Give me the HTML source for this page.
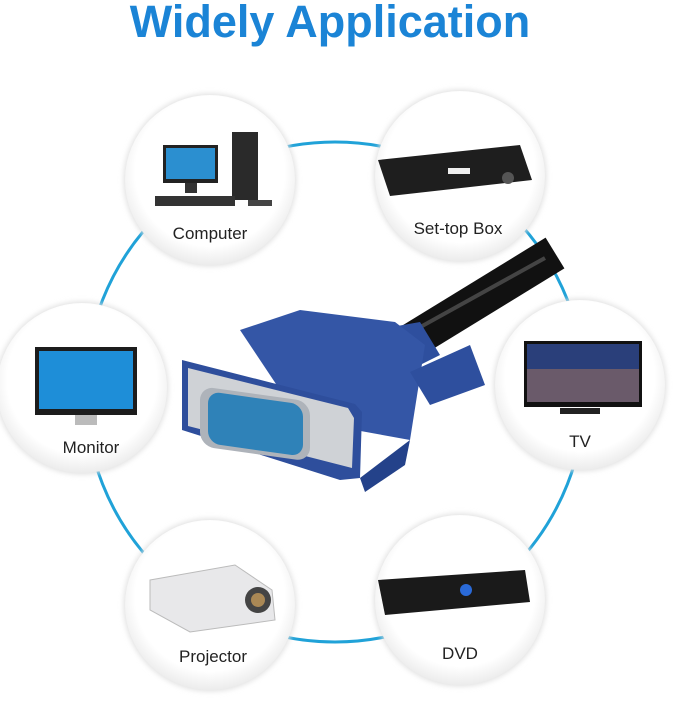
<!DOCTYPE html>
<html><head><style>
body{margin:0;width:679px;height:704px;background:#fff;overflow:hidden;font-family:"Liberation Sans",sans-serif}
</style></head><body>
<svg width="679" height="704" viewBox="0 0 679 704" xmlns="http://www.w3.org/2000/svg">
<defs>
<radialGradient id="cg" cx="50%" cy="45%" r="55%">
<stop offset="0.8" stop-color="#fff"/><stop offset="1" stop-color="#ececec"/>
</radialGradient>
<filter id="sh" x="-20%" y="-20%" width="140%" height="140%"><feGaussianBlur stdDeviation="3"/></filter>
</defs>
<text x="330" y="37" text-anchor="middle" font-family="Liberation Sans" font-weight="bold" font-size="45" fill="#1b84d6">Widely Application</text>
<circle cx="335" cy="392" r="250" fill="none" stroke="#20a2d8" stroke-width="3"/>
<g>
<circle cx="210" cy="180" r="86" fill="#ddd" filter="url(#sh)"/><circle cx="210" cy="180" r="85" fill="url(#cg)"/>
<circle cx="460" cy="176" r="86" fill="#ddd" filter="url(#sh)"/><circle cx="460" cy="176" r="85" fill="url(#cg)"/>
<circle cx="82" cy="388" r="86" fill="#ddd" filter="url(#sh)"/><circle cx="82" cy="388" r="85" fill="url(#cg)"/>
<circle cx="580" cy="385" r="86" fill="#ddd" filter="url(#sh)"/><circle cx="580" cy="385" r="85" fill="url(#cg)"/>
<circle cx="210" cy="605" r="86" fill="#ddd" filter="url(#sh)"/><circle cx="210" cy="605" r="85" fill="url(#cg)"/>
<circle cx="460" cy="600" r="86" fill="#ddd" filter="url(#sh)"/><circle cx="460" cy="600" r="85" fill="url(#cg)"/>
</g>
<!-- computer -->
<rect x="163" y="145" width="55" height="38" fill="#222"/><rect x="166" y="148" width="49" height="31" fill="#2b8fd0"/>
<rect x="185" y="183" width="12" height="10" fill="#333"/>
<rect x="232" y="132" width="26" height="68" fill="#2a2a2a"/>
<rect x="155" y="196" width="80" height="10" fill="#333"/><rect x="248" y="200" width="24" height="6" fill="#444"/>
<!-- set-top -->
<polygon points="378,160 520,145 532,180 390,196" fill="#1e1e1e"/>
<rect x="448" y="168" width="22" height="6" fill="#eee"/><circle cx="508" cy="178" r="6" fill="#555"/>
<!-- monitor -->
<rect x="35" y="347" width="102" height="68" fill="#1c1c1c"/><rect x="39" y="351" width="94" height="58" fill="#1e8ed8"/>
<rect x="75" y="415" width="22" height="10" fill="#bbb"/>
<!-- tv -->
<rect x="524" y="341" width="118" height="66" fill="#111"/><rect x="527" y="344" width="112" height="58" fill="#6a5a6a"/>
<rect x="527" y="344" width="112" height="25" fill="#2a3f7a"/>
<rect x="560" y="408" width="40" height="6" fill="#222"/>
<!-- projector -->
<polygon points="150,580 235,565 272,590 275,620 190,632 150,610" fill="#e8e8ea" stroke="#bbb"/>
<circle cx="258" cy="600" r="13" fill="#444"/><circle cx="258" cy="600" r="7" fill="#aa8855"/>
<!-- dvd -->
<polygon points="378,580 525,570 530,602 385,615" fill="#1a1a1a"/>
<circle cx="466" cy="590" r="6" fill="#2a6ad8"/>
<!-- labels -->
<g font-family="Liberation Sans" font-size="17" fill="#222" text-anchor="middle">
<text x="210" y="239">Computer</text><text x="458" y="234">Set-top Box</text>
<text x="91" y="453">Monitor</text><text x="580" y="447">TV</text>
<text x="213" y="662">Projector</text><text x="460" y="659">DVD</text>
</g>
<!-- cable -->
<path d="M405,345 L555,253" stroke="#111" stroke-width="36" stroke-linecap="butt"/>
<line x1="415" y1="330" x2="545" y2="258" stroke="#444" stroke-width="4"/>
<!-- connector -->
<polygon points="375,330 420,322 440,355 400,375" fill="#2e4f9e"/>
<polygon points="240,330 300,310 395,322 425,345 410,440 300,420" fill="#3456a6"/>
<polygon points="410,372 470,345 485,385 430,405" fill="#2e4f9e"/>
<polygon points="182,360 355,404 362,412 360,478 340,480 182,430" fill="#2e4e9c"/>
<polygon points="188,368 348,408 354,418 352,468 188,426" fill="#cfd2d6"/>
<rect x="200" y="388" width="110" height="60" rx="14" fill="#aeb3ba" transform="skewY(8) translate(0,-30)"/>
<rect x="208" y="392" width="95" height="52" rx="12" fill="#2f82b8" transform="skewY(8) translate(0,-30)"/>
<polygon points="360,478 410,440 405,465 365,492" fill="#24428a"/>
</svg>
</body></html>
